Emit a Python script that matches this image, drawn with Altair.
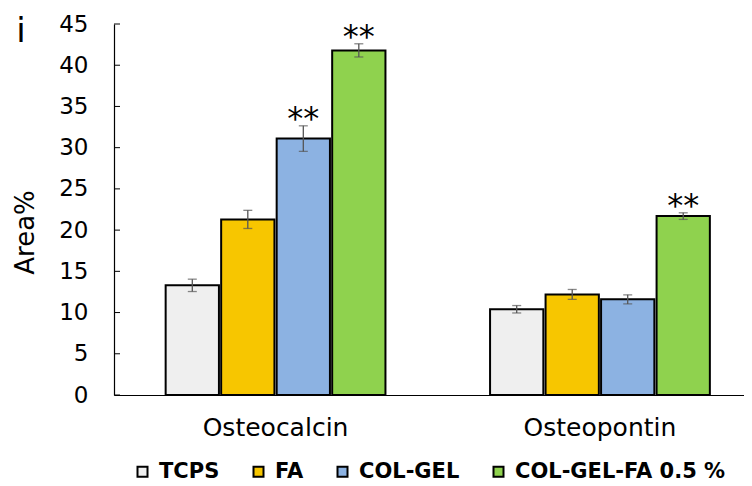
import altair as alt
import pandas as pd

markers = ["Osteocalcin", "Osteopontin"]
groups = ["TCPS", "FA", "COL-GEL", "COL-GEL-FA 0.5 %"]
osteocalcin = [13.3, 21.3, 31.1, 41.8]
osteocalcin_err = [0.75, 1.1, 1.55, 0.8]
osteopontin = [10.4, 12.2, 11.6, 21.7]
osteopontin_err = [0.45, 0.6, 0.55, 0.4]
osteocalcin_sig = ["", "", "**", "**"]
osteopontin_sig = ["", "", "", "**"]
colors = ["#EFEFEF", "#F7C600", "#8CB2E2", "#8FD24E"]
y_ticks = [0, 5, 10, 15, 20, 25, 30, 35, 40, 45]

rows = []
for marker, vals, errs, sigs in [
    ("Osteocalcin", osteocalcin, osteocalcin_err, osteocalcin_sig),
    ("Osteopontin", osteopontin, osteopontin_err, osteopontin_sig),
]:
    for g, v, e, s in zip(groups, vals, errs, sigs):
        rows.append({"marker": marker, "group": g, "value": v,
                     "lo": v - e, "hi": v + e, "sig": s})
df = pd.DataFrame(rows)

FONT = "DejaVu Sans"
yscale = alt.Scale(domain=[0, 45], nice=False)

base = alt.Chart(df).encode(
    x=alt.X("marker:N", sort=markers,
            scale=alt.Scale(paddingInner=0.112, paddingOuter=0.027, align=1),
            axis=alt.Axis(title=None, labelAngle=0)),
    xOffset=alt.XOffset("group:N", sort=groups,
                        scale=alt.Scale(paddingInner=0.04, paddingOuter=0.615)),
)

bars = base.mark_bar(stroke="black", strokeWidth=2).encode(
    y=alt.Y("value:Q", scale=yscale, title="Area%",
            axis=alt.Axis(values=y_ticks)),
    color=alt.Color("group:N", sort=groups,
                    scale=alt.Scale(domain=groups, range=colors),
                    legend=alt.Legend(title=None, orient="none", legendX=18, legendY=437,
                                      direction="horizontal")),
)

err_color = "#555555"
err_rule = base.mark_rule(color=err_color, strokeWidth=1.3).encode(
    y=alt.Y("lo:Q", scale=yscale, title="Area%"), y2="hi:Q")
cap_lo = base.mark_tick(color=err_color, thickness=1.3, size=9).encode(
    y=alt.Y("lo:Q", scale=yscale, title="Area%"))
cap_hi = base.mark_tick(color=err_color, thickness=1.3, size=9).encode(
    y=alt.Y("hi:Q", scale=yscale, title="Area%"))
stars = base.mark_text(font=FONT, fontSize=32, baseline="alphabetic", dy=3,
                       color="black").encode(
    y=alt.Y("hi:Q", scale=yscale, title="Area%"), text="sig:N")

tick_df = pd.DataFrame({"t": y_ticks})
inner_ticks = alt.Chart(tick_df).mark_rule(color="black", strokeWidth=1).encode(
    y=alt.Y("t:Q", scale=yscale, title="Area%"),
    x=alt.value(0), x2=alt.value(6))

panel_label = alt.Chart(pd.DataFrame({"label": ["i"]})).mark_text(
    font=FONT, fontSize=34, baseline="alphabetic", align="center", color="black"
).encode(text="label:N", x=alt.value(-93), y=alt.value(18))

chart = alt.layer(bars, err_rule, cap_lo, cap_hi, stars, inner_ticks, panel_label).properties(
    width=630, height=371,
    autosize=alt.AutoSizeParams(type="none"),
    padding={"left": 106, "top": 16, "right": 0, "bottom": 97},
    background="white",
).configure_view(stroke=None).configure_axisY(
    domainColor="black", domainWidth=1.2, ticks=False, tickSize=0, grid=False,
    labelFont=FONT, labelFontSize=23, labelColor="black", labelPadding=26,
    titleFont=FONT, titleFontSize=26, titleFontWeight="normal", titleColor="black",
    titleAngle=270, titleX=-81, titleY=208, titleAlign="center", titleBaseline="alphabetic",
).configure_axisX(
    domainColor="black", domainWidth=1.2, ticks=False, tickSize=0, grid=False,
    labelFont=FONT, labelFontSize=25, labelColor="black", labelPadding=20,
).configure_legend(
    symbolType="square", symbolSize=100, symbolStrokeColor="black", symbolStrokeWidth=2,
    labelFont=FONT, labelFontWeight="bold", labelFontSize=21, labelColor="black",
    columnPadding=28, labelOffset=6, padding=0, labelLimit=400,
)

chart.save("out.html", embed_options={"renderer": "svg", "actions": False})
